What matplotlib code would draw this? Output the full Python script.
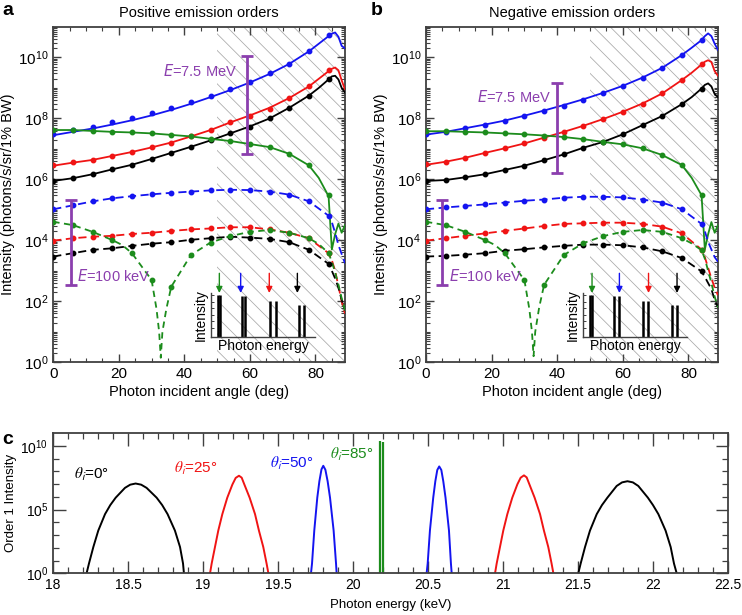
import numpy as np
import matplotlib
matplotlib.use('Agg')
import matplotlib.pyplot as plt
from matplotlib.ticker import FixedLocator, NullFormatter, LogLocator, MultipleLocator, FuncFormatter

plt.rcParams['font.family'] = ['Liberation Sans', 'DejaVu Sans']
plt.rcParams['hatch.linewidth'] = 0.55
plt.rcParams['hatch.color'] = '#a8a8a8'

BLUE = '#1414f0'
RED = '#f01414'
BLACK = 'black'
GREEN = '#1c8c1c'
PURPLE = '#8B3FAE'
SPINE = '#404040'

# ---- panels a/b : values are log10(intensity) ----
dot_angles = [0, 6, 12, 18, 24, 30, 36, 42, 48, 54, 60, 66, 72, 78, 84]
line_angles = [0, 6, 12, 18, 24, 30, 36, 42, 48, 54, 60, 66, 72, 78, 81, 84, 85, 86, 87, 88, 89]
dash_tail_angles = [85, 86, 87, 88, 89]
green_dash_angles = [0, 6, 12, 18, 21, 24, 30, 31.5, 32.3, 32.8, 33.3, 34.5, 36, 42, 48, 54, 60, 66, 72, 78, 81, 84, 85, 86, 87, 88, 89]

# positive orders (a)
a_blue_line = [7.45, 7.56, 7.67, 7.80, 7.94, 8.10, 8.28, 8.48, 8.70, 8.93, 9.18, 9.46, 9.79, 10.20, 10.45, 10.70, 10.78, 10.82, 10.68, 10.38, 10.30]
a_red_line = [6.45, 6.55, 6.64, 6.77, 6.90, 7.05, 7.21, 7.41, 7.62, 7.87, 8.10, 8.35, 8.67, 9.05, 9.30, 9.55, 9.63, 9.67, 9.58, 9.25, 8.95]
a_black_line = [5.95, 6.04, 6.17, 6.33, 6.48, 6.67, 6.87, 7.07, 7.28, 7.51, 7.74, 8.00, 8.35, 8.75, 9.00, 9.28, 9.38, 9.40, 9.28, 9.00, 8.85]
a_green_line = [7.62, 7.62, 7.59, 7.56, 7.54, 7.51, 7.46, 7.41, 7.33, 7.26, 7.16, 7.06, 6.84, 6.46, 6.05, 5.45, 3.70, 4.20, 4.55, 4.25, 4.50]

a_blue_dots = [7.49, 7.62, 7.73, 7.87, 8.01, 8.17, 8.35, 8.54, 8.74, 8.96, 9.20, 9.48, 9.80, 10.21, 10.73]
a_red_dots = [6.47, 6.57, 6.64, 6.78, 6.90, 7.06, 7.20, 7.42, 7.62, 7.88, 8.09, 8.32, 8.67, 9.05, 9.58]
a_black_dots = [5.95, 6.04, 6.17, 6.34, 6.48, 6.68, 6.87, 7.07, 7.28, 7.51, 7.73, 8.00, 8.35, 8.75, 9.29]
a_green_dots = [7.62, 7.62, 7.58, 7.56, 7.54, 7.51, 7.46, 7.41, 7.32, 7.26, 7.15, 7.07, 6.84, 6.46, 5.49]

a_blue_dash = [5.02, 5.15, 5.28, 5.38, 5.45, 5.51, 5.56, 5.60, 5.64, 5.66, 5.65, 5.60, 5.50, 5.28, 4.81]
a_red_dash = [3.99, 4.07, 4.12, 4.15, 4.21, 4.25, 4.31, 4.36, 4.39, 4.43, 4.43, 4.36, 4.25, 4.07, 3.58]
a_black_dash = [3.47, 3.58, 3.69, 3.74, 3.82, 3.89, 3.94, 4.02, 4.07, 4.12, 4.09, 4.05, 3.94, 3.69, 3.23]
a_green_dash_dots = [4.61, 4.50, 4.28, 4.01, 3.58, 2.70, 2.48, 3.52, 3.93, 4.14, 4.28, 4.34, 4.25, 4.07, 3.58]
a_blue_dash_tail = [4.60, 4.25, 3.85, 3.55, 3.25]
a_red_dash_tail = [3.35, 3.00, 2.50, 2.00, 1.60]
a_black_dash_tail = [3.00, 2.75, 2.45, 2.05, 1.70]
a_green_dash_line = [4.61, 4.50, 4.28, 4.01, 3.85, 3.58, 2.70, 1.75, 1.00, 0.15, 1.00, 1.75, 2.48, 3.52, 3.93, 4.14, 4.28, 4.34, 4.25, 4.07, 3.88, 3.58, 3.30, 2.95, 2.55, 2.10, 1.70]

# negative orders (b)
b_blue_line = [7.47, 7.56, 7.68, 7.80, 7.93, 8.09, 8.26, 8.44, 8.63, 8.84, 9.07, 9.34, 9.66, 10.08, 10.32, 10.57, 10.70, 10.79, 10.70, 10.45, 10.25]
b_red_line = [6.48, 6.58, 6.71, 6.87, 7.02, 7.18, 7.37, 7.56, 7.76, 7.98, 8.22, 8.49, 8.82, 9.26, 9.50, 9.77, 9.86, 9.91, 9.85, 9.55, 9.40]
b_black_line = [5.95, 5.98, 6.07, 6.17, 6.31, 6.45, 6.63, 6.82, 7.04, 7.23, 7.48, 7.78, 8.08, 8.47, 8.70, 8.98, 9.10, 9.15, 9.05, 8.80, 8.70]
b_green_line = [7.58, 7.58, 7.56, 7.54, 7.51, 7.48, 7.44, 7.39, 7.32, 7.23, 7.15, 7.02, 6.80, 6.47, 6.05, 5.48, 3.70, 4.20, 4.60, 4.25, 4.50]

b_blue_dots = [7.48, 7.56, 7.69, 7.80, 7.92, 8.09, 8.24, 8.42, 8.61, 8.82, 9.06, 9.33, 9.66, 10.08, 10.57]
b_red_dots = [6.49, 6.58, 6.71, 6.87, 7.02, 7.18, 7.37, 7.56, 7.76, 7.98, 8.22, 8.49, 8.82, 9.26, 9.77]
b_black_dots = [5.95, 5.98, 6.07, 6.17, 6.31, 6.45, 6.63, 6.82, 7.04, 7.23, 7.48, 7.78, 8.08, 8.47, 8.98]
b_green_dots = [7.58, 7.58, 7.56, 7.54, 7.51, 7.48, 7.44, 7.39, 7.32, 7.23, 7.15, 7.02, 6.80, 6.47, 5.48]

b_blue_dash = [5.02, 5.08, 5.13, 5.18, 5.24, 5.30, 5.34, 5.40, 5.43, 5.43, 5.41, 5.34, 5.24, 5.02, 4.54]
b_red_dash = [3.99, 4.07, 4.15, 4.23, 4.31, 4.39, 4.47, 4.54, 4.56, 4.58, 4.58, 4.54, 4.45, 4.23, 3.70]
b_black_dash = [3.47, 3.49, 3.53, 3.58, 3.66, 3.71, 3.77, 3.82, 3.86, 3.86, 3.84, 3.77, 3.64, 3.42, 2.98]
b_green_dash_dots = [4.61, 4.50, 4.28, 4.01, 3.58, 2.70, 2.54, 3.52, 3.91, 4.14, 4.28, 4.34, 4.28, 4.07, 3.68]
b_blue_dash_tail = [4.30, 3.95, 3.70, 3.45, 3.30]
b_red_dash_tail = [3.45, 3.10, 2.75, 2.45, 2.20]
b_black_dash_tail = [2.80, 2.60, 2.40, 2.05, 1.80]
b_green_dash_line = [4.61, 4.50, 4.28, 4.01, 3.85, 3.58, 2.70, 1.75, 1.00, 0.20, 1.00, 1.80, 2.54, 3.52, 3.91, 4.14, 4.28, 4.34, 4.28, 4.07, 3.90, 3.68, 3.40, 3.00, 2.60, 2.15, 1.80]

# purple energy bars: x (deg), log10 low, log10 high
a_bar_x = [59, 5.3]
a_bar_lo = [6.82, 2.54]
a_bar_hi = [10.04, 5.32]
b_bar_x = [40, 5]
b_bar_lo = [6.20, 2.54]
b_bar_hi = [9.17, 5.32]

# inset sketch (arbitrary units)
a_inset_bars = [0.068, 0.085, 0.295, 0.33, 0.57, 0.62, 0.85, 0.895]
b_inset_bars = [0.072, 0.082, 0.295, 0.35, 0.577, 0.622, 0.856, 0.904]
inset_heights = [0.96, 0.96, 0.94, 0.94, 0.81, 0.81, 0.73, 0.73]
a_arrow_x = [0.08, 0.285, 0.56, 0.83]
b_arrow_x = [0.087, 0.35, 0.63, 0.904]
arrow_colors = [GREEN, BLUE, RED, BLACK]

# ---- panel c : order 1 spectra, energy (keV) and log10 intensity ----
c_black_l_E = [18.224, 18.240, 18.269, 18.302, 18.347, 18.382, 18.418, 18.480, 18.515, 18.551, 18.588, 18.624, 18.691, 18.728, 18.764, 18.813, 18.847, 18.867, 18.873]
c_black_l_I = [0, 0.77, 2.06, 3.35, 4.64, 5.35, 5.93, 6.70, 6.95, 7.04, 6.95, 6.70, 5.93, 5.35, 4.64, 3.35, 2.06, 0.77, 0]
c_red_l_E = [19.047, 19.058, 19.080, 19.102, 19.129, 19.162, 19.196, 19.218, 19.240, 19.258, 19.276, 19.311, 19.347, 19.373, 19.402, 19.424, 19.436]
c_red_l_I = [0, 0.77, 2.06, 3.35, 4.64, 5.93, 6.96, 7.48, 7.65, 7.50, 6.96, 5.93, 4.64, 3.35, 2.06, 0.77, 0]
c_blue_l_E = [19.720, 19.727, 19.742, 19.762, 19.776, 19.790, 19.802, 19.816, 19.831, 19.847, 19.871, 19.887, 19.891]
c_blue_l_I = [0, 0.77, 3.35, 5.93, 7.22, 8.15, 8.43, 8.12, 7.22, 5.93, 3.35, 0.77, 0]
c_green_E = [20.180, 20.202]
c_green_I = [10.36, 10.30]
c_blue_r_E = [20.491, 20.498, 20.513, 20.535, 20.549, 20.562, 20.575, 20.589, 20.602, 20.617, 20.640, 20.653, 20.658]
c_blue_r_I = [0, 0.77, 3.35, 5.93, 7.22, 8.10, 8.38, 8.10, 7.22, 5.93, 3.35, 0.77, 0]
c_red_r_E = [20.947, 20.958, 20.980, 21.002, 21.029, 21.062, 21.096, 21.118, 21.140, 21.158, 21.176, 21.211, 21.247, 21.273, 21.302, 21.324, 21.336]
c_red_r_I = [0, 0.77, 2.06, 3.35, 4.64, 5.93, 6.98, 7.50, 7.68, 7.52, 6.98, 5.93, 4.64, 3.35, 2.06, 0.77, 0]
c_black_r_E = [21.502, 21.518, 21.547, 21.580, 21.625, 21.660, 21.696, 21.758, 21.794, 21.830, 21.866, 21.902, 21.966, 22.000, 22.036, 22.084, 22.118, 22.140, 22.158]
c_black_r_I = [0, 0.77, 2.06, 3.35, 4.64, 5.35, 5.93, 6.85, 7.13, 7.22, 7.13, 6.85, 5.93, 5.35, 4.64, 3.35, 2.06, 0.77, 0]

c_label_x = [18.14, 18.81, 19.45, 19.85]
c_label_y = [7.75, 8.2, 8.6, 9.3]
c_label_txt = [r'$\theta_\mathsf{i}$=0°', r'$\theta_\mathsf{i}$=25°', r'$\theta_\mathsf{i}$=50°', r'$\theta_\mathsf{i}$=85°']


def p10(v):
    return 10.0 ** np.asarray(v, dtype=float)


def style_angle_axes(ax):
    ax.set_yscale('log')
    ax.set_xlim(0, 89)
    ax.set_ylim(1, 1e11)
    ax.yaxis.set_major_locator(FixedLocator([1e0, 1e2, 1e4, 1e6, 1e8, 1e10]))
    ax.yaxis.set_minor_locator(LogLocator(base=10, subs=np.arange(1, 10), numticks=40))
    ax.yaxis.set_minor_formatter(NullFormatter())
    ax.xaxis.set_major_locator(MultipleLocator(20))
    ax.xaxis.set_minor_locator(MultipleLocator(5))
    ax.tick_params(which='both', direction='in', top=True, right=True, colors=SPINE, labelcolor='black', labelsize=11)
    ax.tick_params(which='major', length=5.5, width=1.0)
    ax.tick_params(which='minor', length=3, width=0.8)
    for s in ax.spines.values():
        s.set_color(SPINE)
        s.set_linewidth(1.3)
    ax.set_xlabel('Photon incident angle (deg)', fontsize=10.5, labelpad=3)
    ax.set_ylabel('Intensity (photons/s/sr/1% BW)', fontsize=10.5, labelpad=2)


def draw_angle_panel(ax, lines, dots, dashes, tails, green_dash, green_dash_dots,
                     bar_x, bar_lo, bar_hi, mev_pos, kev_pos):
    style_angle_axes(ax)
    # hatched high-angle region
    ax.axvspan(50, 89, facecolor='none', edgecolor='#a8a8a8', hatch=r'\\', lw=0, zorder=0)
    colors = [BLUE, RED, BLACK, GREEN]
    for c, ln, dt in zip(colors, lines, dots):
        ax.plot(line_angles, p10(ln), color=c, lw=1.3, zorder=3)
        ax.plot(dot_angles, p10(dt), 'o', color=c, ms=3.2, zorder=4)
    for c, dd, tl in zip(colors[:3], dashes, tails):
        ax.plot(dot_angles + dash_tail_angles, p10(dd + tl), color=c, lw=1.3, ls=(0, (4.5, 2.5)), zorder=3)
        ax.plot(dot_angles, p10(dd), 'o', color=c, ms=3.2, zorder=4)
    ax.plot(green_dash_angles, p10(green_dash), color=GREEN, lw=1.3, ls=(0, (3.5, 2.5)), zorder=3)
    ax.plot(dot_angles, p10(green_dash_dots), 'o', color=GREEN, ms=3.2, zorder=4)
    # energy bars
    for x, lo, hi in zip(bar_x, bar_lo, bar_hi):
        ax.vlines(x, 10 ** lo, 10 ** hi, color=PURPLE, lw=2.0, zorder=5)
        ax.hlines([10 ** lo, 10 ** hi], x - 1.8, x + 1.8, color=PURPLE, lw=2.0, zorder=5)
    ax.text(mev_pos[0], 10 ** mev_pos[1], r'$E$=7.5 MeV', color=PURPLE, fontsize=10.5,
            ha='right', va='center', math_fontfamily='dejavusans', zorder=6)
    ax.text(kev_pos[0], 10 ** kev_pos[1], r'$E$=100 keV', color=PURPLE, fontsize=10.5,
            ha='left', va='center', math_fontfamily='dejavusans', zorder=6)


def draw_inset(rect, bars, arrows):
    ins = fig.add_axes(rect)
    ins.patch.set_alpha(0)
    ins.set_xlim(0, 1)
    ins.set_ylim(0, 1)
    for s in ['top', 'right']:
        ins.spines[s].set_visible(False)
    for s in ['left', 'bottom']:
        ins.spines[s].set_color(SPINE)
        ins.spines[s].set_linewidth(1.0)
    ins.vlines(bars, 0, inset_heights, color='black', lw=1.8)
    ins.set_xticks([])
    ins.set_yticks([0.2, 0.35, 0.5, 0.65, 0.8, 0.95])
    ins.tick_params(axis='y', direction='in', length=2, width=0.7, labelleft=False, colors=SPINE)
    ins.set_ylabel('Intensity', fontsize=10, labelpad=2)
    ins.set_xlabel('Photon energy', fontsize=10, labelpad=2)
    for x, c in zip(arrows, arrow_colors):
        ins.annotate('', xy=(x, 1.0), xytext=(x, 1.45), annotation_clip=False,
                     arrowprops=dict(arrowstyle='-|>', color=c, lw=1.0, mutation_scale=9,
                                     shrinkA=0, shrinkB=0))
    return ins


fig = plt.figure(figsize=(7.42, 6.15), dpi=100)
ax_a = fig.add_axes([0.0718, 0.4109, 0.3931, 0.5452])
ax_b = fig.add_axes([0.5741, 0.4109, 0.3935, 0.5452])
ax_c = fig.add_axes([0.0714, 0.0678, 0.9097, 0.2281])

draw_angle_panel(ax_a,
                 [a_blue_line, a_red_line, a_black_line, a_green_line],
                 [a_blue_dots, a_red_dots, a_black_dots, a_green_dots],
                 [a_blue_dash, a_red_dash, a_black_dash],
                 [a_blue_dash_tail, a_red_dash_tail, a_black_dash_tail],
                 a_green_dash_line, a_green_dash_dots,
                 a_bar_x, a_bar_lo, a_bar_hi, (56.1, 9.55), (7.1, 2.83))
draw_angle_panel(ax_b,
                 [b_blue_line, b_red_line, b_black_line, b_green_line],
                 [b_blue_dots, b_red_dots, b_black_dots, b_green_dots],
                 [b_blue_dash, b_red_dash, b_black_dash],
                 [b_blue_dash_tail, b_red_dash_tail, b_black_dash_tail],
                 b_green_dash_line, b_green_dash_dots,
                 b_bar_x, b_bar_lo, b_bar_hi, (38.1, 8.71), (7.0, 2.83))
ax_a.set_title('Positive emission orders', fontsize=10.5, pad=7)
ax_b.set_title('Negative emission orders', fontsize=10.5, pad=7)

draw_inset([0.2844, 0.4525, 0.1402, 0.0711], a_inset_bars, a_arrow_x)
draw_inset([0.7857, 0.4525, 0.1402, 0.0711], b_inset_bars, b_arrow_x)

# panel c
ax_c.set_yscale('log')
ax_c.set_xlim(18, 22.5)
ax_c.set_ylim(1, 1e11)
for E, I, c in [(c_black_l_E, c_black_l_I, BLACK), (c_red_l_E, c_red_l_I, RED),
                (c_blue_l_E, c_blue_l_I, BLUE), (c_blue_r_E, c_blue_r_I, BLUE),
                (c_red_r_E, c_red_r_I, RED), (c_black_r_E, c_black_r_I, BLACK)]:
    ax_c.plot(E, p10(I), color=c, lw=1.4)
ax_c.vlines(c_green_E, 1, p10(c_green_I), color=GREEN, lw=1.6)
ax_c.yaxis.set_major_locator(FixedLocator([1e0, 1e5, 1e10]))
ax_c.yaxis.set_minor_locator(FixedLocator([10.0 ** k for k in range(1, 11) if k not in (5, 10)]))
ax_c.yaxis.set_minor_formatter(NullFormatter())
ax_c.xaxis.set_major_locator(MultipleLocator(0.5))
ax_c.xaxis.set_minor_locator(MultipleLocator(0.1))
ax_c.xaxis.set_major_formatter(FuncFormatter(lambda v, p: '%g' % v))
ax_c.tick_params(which='both', direction='in', top=True, right=True, colors=SPINE, labelcolor='black', labelsize=10)
ax_c.tick_params(which='major', length=9, width=1.0)
ax_c.tick_params(which='minor', length=4.5, width=0.9)
for s in ax_c.spines.values():
    s.set_color(SPINE)
    s.set_linewidth(1.3)
ax_c.set_xlabel('Photon energy (keV)', fontsize=9.5, labelpad=5)
ax_c.set_ylabel('Order 1 Intensity', fontsize=9.5, labelpad=2)

for x, y, t, c in zip(c_label_x, c_label_y, c_label_txt, [BLACK, RED, BLUE, GREEN]):
    ax_c.text(x, 10 ** y, t, color=c, fontsize=11, ha='left', va='center', math_fontfamily='stix')

fig.text(0.003, 0.997, 'a', fontsize=14, fontweight='bold', va='top')
fig.text(0.500, 0.997, 'b', fontsize=14, fontweight='bold', va='top')
fig.text(0.003, 0.300, 'c', fontsize=14, fontweight='bold', va='top')

fig.savefig('out.png', dpi=100)
